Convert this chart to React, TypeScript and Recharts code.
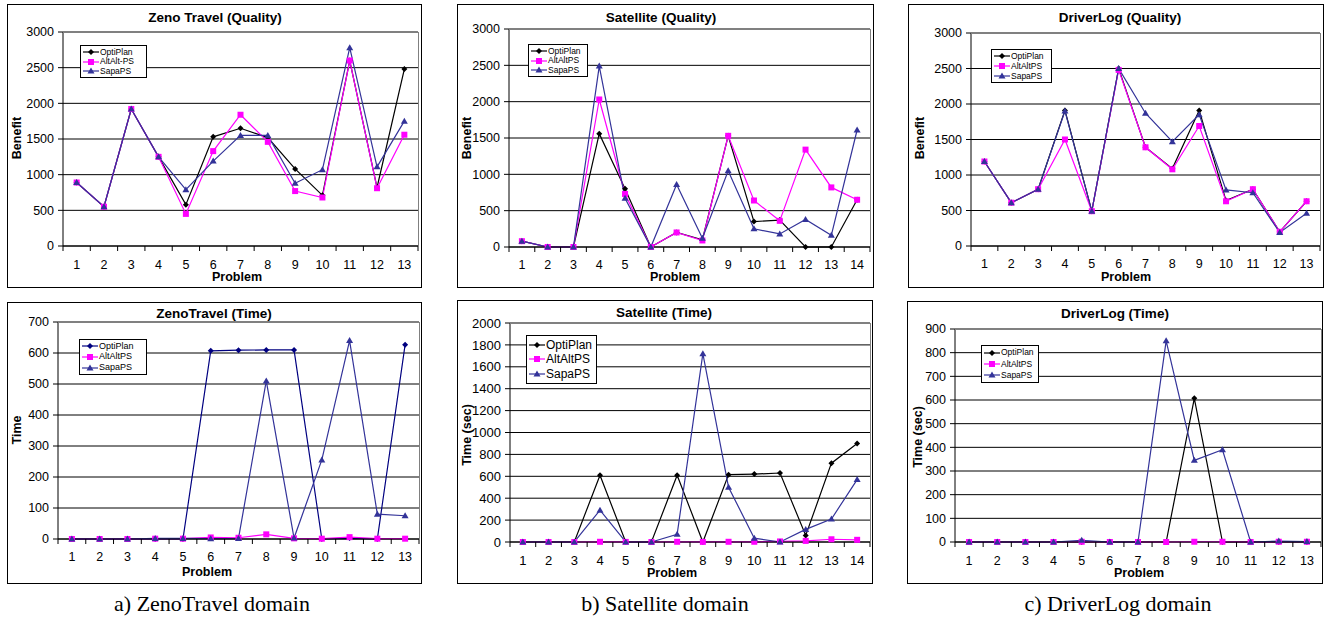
import React from "react";
import { LineChart, Line, XAxis, YAxis, CartesianGrid } from "recharts";

const FONT = "Arial, 'Liberation Sans', Helvetica, sans-serif";
const SERIF = "'Times New Roman', 'Liberation Serif', serif";
const OPTI = "#000000";
const ALT = "#FF00FF";
const SAPA = "#333399";

const PROBLEMS_13 = [1, 2, 3, 4, 5, 6, 7, 8, 9, 10, 11, 12, 13];
const PROBLEMS_14 = [1, 2, 3, 4, 5, 6, 7, 8, 9, 10, 11, 12, 13, 14];

const QUALITY_TICKS = [0, 500, 1000, 1500, 2000, 2500, 3000];
const ZENO_TIME_TICKS = [0, 100, 200, 300, 400, 500, 600, 700];
const SAT_TIME_TICKS = [0, 200, 400, 600, 800, 1000, 1200, 1400, 1600, 1800, 2000];
const DRIVER_TIME_TICKS = [0, 100, 200, 300, 400, 500, 600, 700, 800, 900];

// Zeno Travel quality
const ZENO_Q_OPTI = [890, 550, 1920, 1250, 580, 1530, 1650, 1520, 1080, 710, 2600, 820, 2480];
const ZENO_Q_ALT = [890, 550, 1920, 1250, 450, 1330, 1840, 1460, 770, 680, 2600, 810, 1560];
const ZENO_Q_SAPA = [890, 550, 1920, 1250, 790, 1190, 1550, 1550, 880, 1070, 2780, 1110, 1750];

// Satellite quality
const SAT_Q_OPTI = [80, 0, 0, 1560, 800, 0, 200, 100, 1530, 350, 370, 0, 0, 650];
const SAT_Q_ALT = [80, 0, 0, 2030, 730, 0, 200, 90, 1530, 640, 360, 1340, 820, 650];
const SAT_Q_SAPA = [80, 0, 0, 2490, 670, 0, 860, 120, 1050, 250, 180, 380, 160, 1610];

// DriverLog quality
const DRV_Q_OPTI = [1190, 610, 800, 1910, 490, 2500, 1390, 1090, 1910, 640, 800, 200, 630];
const DRV_Q_ALT = [1190, 610, 800, 1500, 490, 2480, 1390, 1080, 1690, 630, 800, 200, 630];
const DRV_Q_SAPA = [1190, 610, 800, 1900, 490, 2500, 1870, 1470, 1850, 790, 750, 190, 460];

// Zeno Travel time
const ZENO_T_OPTI = [0, 0, 0, 0, 0, 607, 609, 610, 610, 0, 3, 0, 627];
const ZENO_T_ALT = [0, 0, 0, 1, 1, 5, 4, 15, 2, 1, 6, 1, 1];
const ZENO_T_SAPA = [0, 0, 0, 2, 2, 1, 2, 510, 3, 255, 640, 80, 75];

// Satellite time
const SAT_T_OPTI = [0, 0, 0, 610, 0, 0, 610, 0, 615, 620, 630, 60, 720, 900];
const SAT_T_ALT = [0, 0, 0, 2, 1, 0, 2, 1, 2, 2, 5, 10, 25, 20];
const SAT_T_SAPA = [0, 0, 0, 290, 0, 0, 70, 1720, 500, 35, 0, 115, 210, 570];

// DriverLog time
const DRV_T_OPTI = [0, 0, 0, 0, 0, 0, 0, 0, 607, 0, 0, 0, 0];
const DRV_T_ALT = [0, 0, 0, 0, 1, 0, 0, 0, 1, 1, 0, 1, 1];
const DRV_T_SAPA = [0, 0, 0, 0, 7, 0, 0, 850, 345, 390, 0, 4, 2];

type Panel = {
  title: string;
  yLabel: string;
  problems: number[];
  opti: number[];
  alt: number[];
  sapa: number[];
  ticks: number[];
  box: [number, number, number, number];
  plot: [number, number, number, number];
  titlePos: [number, number];
  yLabelPos: [number, number];
  xLabelPos: [number, number];
  tickLabelY: number;
  tickFont: number;
  legend: { x: number; y: number; w: number; h: number; font: number; altName: string };
  optiColor: string;
};

const PANELS: Panel[] = [
  {
    title: "Zeno Travel (Quality)", yLabel: "Benefit", problems: PROBLEMS_13,
    opti: ZENO_Q_OPTI, alt: ZENO_Q_ALT, sapa: ZENO_Q_SAPA, ticks: QUALITY_TICKS,
    box: [7, 4, 421, 287], plot: [63, 32, 418, 246],
    titlePos: [215, 17], yLabelPos: [17, 138], xLabelPos: [237, 277], tickLabelY: 265, tickFont: 12.5,
    legend: { x: 80, y: 45, w: 67, h: 33, font: 8.5, altName: "AltAlt-PS" }, optiColor: OPTI,
  },
  {
    title: "Satellite (Quality)", yLabel: "Benefit", problems: PROBLEMS_14,
    opti: SAT_Q_OPTI, alt: SAT_Q_ALT, sapa: SAT_Q_SAPA, ticks: QUALITY_TICKS,
    box: [457, 4, 873, 287], plot: [509, 29, 870, 247],
    titlePos: [661, 17], yLabelPos: [467, 138], xLabelPos: [675, 277], tickLabelY: 265, tickFont: 12.5,
    legend: { x: 528, y: 44, w: 60, h: 33, font: 8.5, altName: "AltAltPS" }, optiColor: OPTI,
  },
  {
    title: "DriverLog (Quality)", yLabel: "Benefit", problems: PROBLEMS_13,
    opti: DRV_Q_OPTI, alt: DRV_Q_ALT, sapa: DRV_Q_SAPA, ticks: QUALITY_TICKS,
    box: [908, 4, 1323, 287], plot: [971, 33, 1320, 246],
    titlePos: [1120, 17], yLabelPos: [920, 138], xLabelPos: [1126, 277], tickLabelY: 264, tickFont: 12.5,
    legend: { x: 991, y: 49, w: 61, h: 34, font: 8.5, altName: "AltAltPS" }, optiColor: OPTI,
  },
  {
    title: "ZenoTravel (Time)", yLabel: "Time", problems: PROBLEMS_13,
    opti: ZENO_T_OPTI, alt: ZENO_T_ALT, sapa: ZENO_T_SAPA, ticks: ZENO_TIME_TICKS,
    box: [7, 302, 421, 583], plot: [58, 322, 419, 539],
    titlePos: [214, 313], yLabelPos: [17, 430], xLabelPos: [207, 572], tickLabelY: 557, tickFont: 12.5,
    legend: { x: 79, y: 339, w: 68, h: 36, font: 9, altName: "AltAltPS" }, optiColor: "#000080",
  },
  {
    title: "Satellite (Time)", yLabel: "Time (sec)", problems: PROBLEMS_14,
    opti: SAT_T_OPTI, alt: SAT_T_ALT, sapa: SAT_T_SAPA, ticks: SAT_TIME_TICKS,
    box: [457, 300, 872, 583], plot: [510, 323, 870, 542],
    titlePos: [664, 312], yLabelPos: [467, 435], xLabelPos: [672, 573], tickLabelY: 560, tickFont: 13,
    legend: { x: 526, y: 335, w: 71, h: 49, font: 12, altName: "AltAltPS" }, optiColor: OPTI,
  },
  {
    title: "DriverLog (Time)", yLabel: "Time (sec)", problems: PROBLEMS_13,
    opti: DRV_T_OPTI, alt: DRV_T_ALT, sapa: DRV_T_SAPA, ticks: DRIVER_TIME_TICKS,
    box: [907, 301, 1322, 583], plot: [955, 329, 1321, 542],
    titlePos: [1115, 313], yLabelPos: [918, 437], xLabelPos: [1139, 573], tickLabelY: 561, tickFont: 12.5,
    legend: { x: 981, y: 345, w: 58, h: 38, font: 8.5, altName: "AltAltPS" }, optiColor: OPTI,
  },
];

const CAPTIONS = [
  { text: "a) ZenoTravel domain", x: 212 },
  { text: "b) Satellite domain", x: 665 },
  { text: "c) DriverLog domain", x: 1118 },
];

function diamondDot(color: string) {
  return (props: any) => {
    const { cx, cy, index } = props;
    if (cx == null || cy == null) return <g key={index} />;
    return (
      <path
        key={index}
        d={`M${cx},${cy - 3} L${cx + 3},${cy} L${cx},${cy + 3} L${cx - 3},${cy} Z`}
        fill={color}
      />
    );
  };
}

function squareDot(color: string) {
  return (props: any) => {
    const { cx, cy, index } = props;
    if (cx == null || cy == null) return <g key={index} />;
    return <rect key={index} x={cx - 3} y={cy - 3} width={6} height={6} fill={color} />;
  };
}

function triangleDot(color: string) {
  return (props: any) => {
    const { cx, cy, index } = props;
    if (cx == null || cy == null) return <g key={index} />;
    return (
      <path
        key={index}
        d={`M${cx},${cy - 3.5} L${cx + 3.5},${cy + 2.5} L${cx - 3.5},${cy + 2.5} Z`}
        fill={color}
      />
    );
  };
}

function LegendRow({ kind, color, label, font }: { kind: string; color: string; label: string; font: number }) {
  const w = 16;
  const c = w / 2;
  const h = 8;
  const m = h / 2;
  let marker;
  if (kind === "d") marker = <path d={`M${c},${m - 3} L${c + 3},${m} L${c},${m + 3} L${c - 3},${m} Z`} fill={color} />;
  else if (kind === "s") marker = <rect x={c - 3} y={m - 3} width={6} height={6} fill={color} />;
  else marker = <path d={`M${c},${m - 3.5} L${c + 3.5},${m + 2.5} L${c - 3.5},${m + 2.5} Z`} fill={color} />;
  return (
    <div style={{ display: "flex", alignItems: "center", height: "33.3%" }}>
      <svg width={w} height={h} style={{ flex: "none", marginLeft: 2 }}>
        <line x1={0} x2={w} y1={m} y2={m} stroke={color} strokeWidth={1.2} />
        {marker}
      </svg>
      <span style={{ marginLeft: 1, fontSize: font, fontFamily: FONT, whiteSpace: "nowrap", lineHeight: 1 }}>
        {label}
      </span>
    </div>
  );
}

function ChartPanel({ p }: { p: Panel }) {
  const [bl, bt, br, bb] = p.box;
  const [pl, pt, pr, pb] = p.plot;
  const width = br - bl;
  const height = bb - bt;
  const n = p.problems.length;
  const step = (pr - pl) / n;
  const axisY = pb - bt;
  const labelY = p.tickLabelY - bt;
  const max = p.ticks[p.ticks.length - 1];

  const data = p.problems.map((prob, i) => ({
    p: prob,
    opti: p.opti[i],
    alt: p.alt[i],
    sapa: p.sapa[i],
  }));

  const xTick = (props: any) => {
    const { x, payload } = props;
    const v = payload.value;
    return (
      <g>
        <line x1={x - step / 2} x2={x - step / 2} y1={axisY} y2={axisY + 5} stroke="#000" />
        {v === n && <line x1={x + step / 2} x2={x + step / 2} y1={axisY} y2={axisY + 5} stroke="#000" />}
        <text
          x={x}
          y={labelY}
          textAnchor="middle"
          dominantBaseline="central"
          fontSize={p.tickFont}
          fontFamily={FONT}
          fill="#000"
        >
          {v}
        </text>
      </g>
    );
  };

  return (
    <>
      <div
        style={{
          position: "absolute",
          left: bl,
          top: bt,
          width: width + 1,
          height: height + 1,
          border: "1px solid #000",
          boxSizing: "border-box",
        }}
      />
      <div style={{ position: "absolute", left: bl, top: bt }}>
        <LineChart
          width={width}
          height={height}
          data={data}
          margin={{ top: pt - bt, right: br - pr, bottom: 0, left: 0 }}
        >
          <CartesianGrid vertical={false} stroke="#000" strokeWidth={1} />
          <XAxis
            type="number"
            dataKey="p"
            domain={[0.5, n + 0.5]}
            ticks={p.problems}
            interval={0}
            allowDataOverflow
            tickLine={false}
            axisLine={{ stroke: "#000" }}
            height={bb - pb}
            tick={xTick}
          />
          <YAxis
            type="number"
            domain={[0, max]}
            ticks={p.ticks}
            interval={0}
            width={pl - bl}
            tickSize={5}
            tickMargin={4}
            tickLine={{ stroke: "#000" }}
            axisLine={{ stroke: "#000" }}
            tick={{ fill: "#000", fontSize: p.tickFont, fontFamily: FONT }}
          />
          <Line
            type="linear"
            dataKey="opti"
            stroke={p.optiColor}
            strokeWidth={1.2}
            dot={diamondDot(p.optiColor)}
            activeDot={false}
            isAnimationActive={false}
          />
          <Line
            type="linear"
            dataKey="alt"
            stroke={ALT}
            strokeWidth={1.2}
            dot={squareDot(ALT)}
            activeDot={false}
            isAnimationActive={false}
          />
          <Line
            type="linear"
            dataKey="sapa"
            stroke={SAPA}
            strokeWidth={1.2}
            dot={triangleDot(SAPA)}
            activeDot={false}
            isAnimationActive={false}
          />
        </LineChart>
      </div>
      {/* plot area border, top and right */}
      <div style={{ position: "absolute", left: pl, top: pt, width: pr - pl, height: 1, background: "#808080" }} />
      <div style={{ position: "absolute", left: pr, top: pt, width: 1, height: pb - pt, background: "#808080" }} />
      <div
        style={{
          position: "absolute",
          left: p.titlePos[0],
          top: p.titlePos[1],
          transform: "translate(-50%, -50%)",
          fontFamily: FONT,
          fontWeight: "bold",
          fontSize: 13.5,
          whiteSpace: "nowrap",
        }}
      >
        {p.title}
      </div>
      <div
        style={{
          position: "absolute",
          left: p.yLabelPos[0],
          top: p.yLabelPos[1],
          transform: "translate(-50%, -50%) rotate(-90deg)",
          fontFamily: FONT,
          fontWeight: "bold",
          fontSize: 12.5,
          whiteSpace: "nowrap",
        }}
      >
        {p.yLabel}
      </div>
      <div
        style={{
          position: "absolute",
          left: p.xLabelPos[0],
          top: p.xLabelPos[1],
          transform: "translate(-50%, -50%)",
          fontFamily: FONT,
          fontWeight: "bold",
          fontSize: 12.5,
          whiteSpace: "nowrap",
        }}
      >
        Problem
      </div>
      <div
        style={{
          position: "absolute",
          left: p.legend.x,
          top: p.legend.y,
          width: p.legend.w,
          height: p.legend.h,
          border: "1px solid #000",
          background: "#fff",
          boxSizing: "border-box",
          display: "flex",
          flexDirection: "column",
          justifyContent: "center",
          paddingTop: 1,
          paddingBottom: 1,
        }}
      >
        <LegendRow kind="d" color={p.optiColor} label="OptiPlan" font={p.legend.font} />
        <LegendRow kind="s" color={ALT} label={p.legend.altName} font={p.legend.font} />
        <LegendRow kind="t" color={SAPA} label="SapaPS" font={p.legend.font} />
      </div>
    </>
  );
}

export default function App() {
  return (
    <div style={{ position: "absolute", left: 0, top: 0, width: 1332, height: 623, background: "#fff" }}>
      {PANELS.map((p) => (
        <ChartPanel key={p.title} p={p} />
      ))}
      {CAPTIONS.map((c) => (
        <div
          key={c.text}
          style={{
            position: "absolute",
            left: c.x,
            top: 604,
            transform: "translate(-50%, -50%)",
            fontFamily: SERIF,
            fontSize: 22,
            whiteSpace: "nowrap",
          }}
        >
          {c.text}
        </div>
      ))}
    </div>
  );
}
